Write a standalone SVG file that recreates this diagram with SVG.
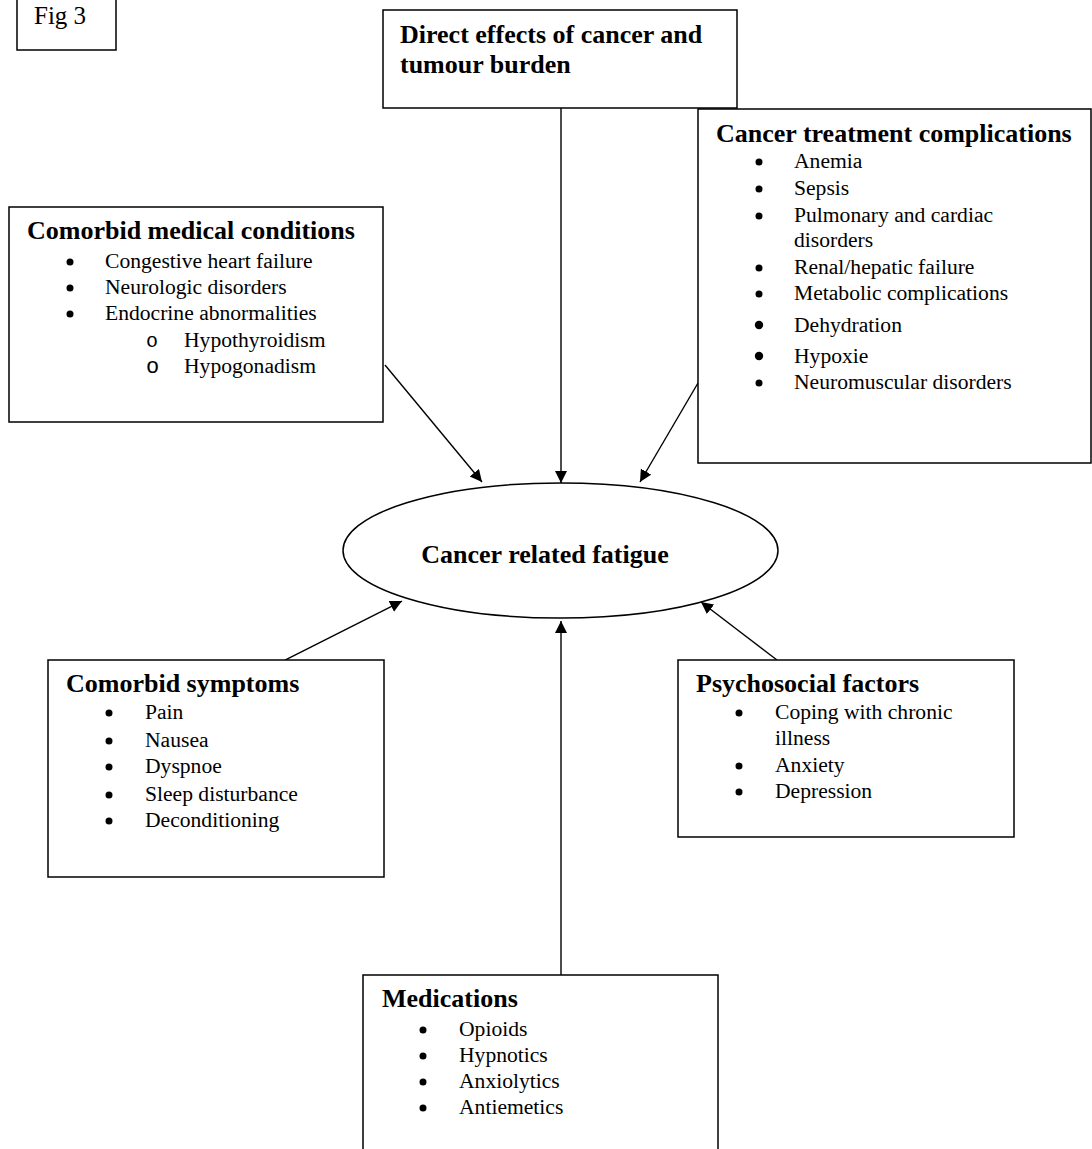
<svg xmlns="http://www.w3.org/2000/svg" width="1092" height="1149" viewBox="0 0 1092 1149">
<style>
.box{fill:#fff;stroke:#000;stroke-width:1.5}
.t{font-family:"Liberation Serif","Times New Roman",serif;font-size:21.6px;fill:#000}
.h{font-family:"Liberation Serif","Times New Roman",serif;font-size:26px;font-weight:bold;fill:#000}
.sub{font-family:"Liberation Mono","Courier New",monospace;font-size:20px;fill:#000}
.b{fill:#000}
.c{stroke:#000;stroke-width:1.4;fill:none;marker-end:url(#ah)}
</style>
<defs>
<marker id="ah" markerUnits="userSpaceOnUse" markerWidth="13" markerHeight="13" refX="12" refY="6" orient="auto">
<path d="M0,0 L12,6 L0,12 Z" fill="#000"/>
</marker>
</defs>
<rect width="1092" height="1149" fill="#fff"/>

<g id="fig-label">
<rect class="box" x="17" y="-1" width="99" height="51"/>
<text class="t" x="34" y="24" style="font-size:25px">Fig 3</text>
</g>

<g id="connectors">
<line class="c" x1="561" y1="108" x2="561" y2="483"/>
<line class="c" x1="385" y1="365" x2="482" y2="482"/>
<line class="c" x1="698" y1="383" x2="640" y2="482"/>
<line class="c" x1="285" y1="660" x2="402" y2="601"/>
<line class="c" x1="561" y1="975" x2="561" y2="621"/>
<line class="c" x1="777" y1="660" x2="701" y2="602"/>
</g>

<g id="direct-effects">
<rect class="box" x="383" y="10" width="354" height="98"/>
<text class="h" x="400" y="43">Direct effects of cancer and</text>
<text class="h" x="400" y="73">tumour burden</text>
</g>

<g id="treatment-complications">
<rect class="box" x="698" y="109" width="393" height="354"/>
<text class="h" x="716" y="142">Cancer treatment complications</text>
<circle class="b" cx="759" cy="162" r="3.5"/><text class="t" x="794" y="168">Anemia</text>
<circle class="b" cx="759" cy="189" r="3.5"/><text class="t" x="794" y="195">Sepsis</text>
<circle class="b" cx="759" cy="216" r="3.5"/><text class="t" x="794" y="222">Pulmonary and cardiac</text>
<text class="t" x="794" y="247">disorders</text>
<circle class="b" cx="759" cy="268" r="3.5"/><text class="t" x="794" y="274">Renal/hepatic failure</text>
<circle class="b" cx="759" cy="294" r="3.5"/><text class="t" x="794" y="300">Metabolic complications</text>
<circle class="b" cx="759" cy="325" r="4.2"/><text class="t" x="794" y="332">Dehydration</text>
<circle class="b" cx="759" cy="356" r="4.2"/><text class="t" x="794" y="363">Hypoxie</text>
<circle class="b" cx="759" cy="383" r="3.5"/><text class="t" x="794" y="389">Neuromuscular disorders</text>
</g>

<g id="comorbid-conditions">
<rect class="box" x="9" y="207" width="374" height="215"/>
<text class="h" x="27" y="239">Comorbid medical conditions</text>
<circle class="b" cx="70" cy="262" r="3.5"/><text class="t" x="105" y="268">Congestive heart failure</text>
<circle class="b" cx="70" cy="288" r="3.5"/><text class="t" x="105" y="294">Neurologic disorders</text>
<circle class="b" cx="70" cy="314" r="3.5"/><text class="t" x="105" y="320">Endocrine abnormalities</text>
<text class="sub" x="146" y="347">o</text><text class="t" x="184" y="347">Hypothyroidism</text>
<text class="sub" x="146" y="373" style="font-size:22px">o</text><text class="t" x="184" y="373">Hypogonadism</text>
</g>

<g id="fatigue">
<ellipse cx="560.5" cy="550.5" rx="217.5" ry="67.5" fill="#fff" stroke="#000" stroke-width="1.5"/>
<text class="h" x="545" y="563" text-anchor="middle">Cancer related fatigue</text>
</g>

<g id="comorbid-symptoms">
<rect class="box" x="48" y="660" width="336" height="217"/>
<text class="h" x="66" y="692">Comorbid symptoms</text>
<circle class="b" cx="109" cy="713" r="3.5"/><text class="t" x="145" y="719">Pain</text>
<circle class="b" cx="109" cy="741" r="3.5"/><text class="t" x="145" y="747">Nausea</text>
<circle class="b" cx="109" cy="767" r="3.5"/><text class="t" x="145" y="773">Dyspnoe</text>
<circle class="b" cx="109" cy="795" r="3.5"/><text class="t" x="145" y="801">Sleep disturbance</text>
<circle class="b" cx="109" cy="821" r="3.5"/><text class="t" x="145" y="827">Deconditioning</text>
</g>

<g id="psychosocial">
<rect class="box" x="678" y="660" width="336" height="177"/>
<text class="h" x="696" y="692">Psychosocial factors</text>
<circle class="b" cx="739" cy="713" r="3.5"/><text class="t" x="775" y="719">Coping with chronic</text>
<text class="t" x="775" y="745">illness</text>
<circle class="b" cx="739" cy="766" r="3.5"/><text class="t" x="775" y="772">Anxiety</text>
<circle class="b" cx="739" cy="792" r="3.5"/><text class="t" x="775" y="798">Depression</text>
</g>

<g id="medications">
<rect class="box" x="363" y="975" width="355" height="190"/>
<text class="h" x="382" y="1007">Medications</text>
<circle class="b" cx="423" cy="1030" r="3.5"/><text class="t" x="459" y="1036">Opioids</text>
<circle class="b" cx="423" cy="1056" r="3.5"/><text class="t" x="459" y="1062">Hypnotics</text>
<circle class="b" cx="423" cy="1082" r="3.5"/><text class="t" x="459" y="1088">Anxiolytics</text>
<circle class="b" cx="423" cy="1108" r="3.5"/><text class="t" x="459" y="1114">Antiemetics</text>
</g>
</svg>
